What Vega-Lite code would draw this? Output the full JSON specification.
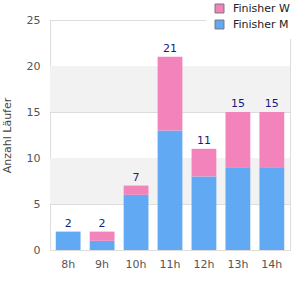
{
  "$schema": "https://vega.github.io/schema/vega-lite/v6.json",
  "width": 240,
  "height": 230,
  "autosize": {"type": "none"},
  "padding": {"left": 50, "top": 20, "right": 10, "bottom": 50},
  "background": "white",
  "config": {
    "font": "DejaVu Sans",
    "view": {"stroke": "#dddddd", "strokeWidth": 1}
  },
  "datasets": {
    "runners": [
      {"hour": "8h", "series": "Finisher M", "count": 2},
      {"hour": "8h", "series": "Finisher W", "count": 0},
      {"hour": "9h", "series": "Finisher M", "count": 1},
      {"hour": "9h", "series": "Finisher W", "count": 1},
      {"hour": "10h", "series": "Finisher M", "count": 6},
      {"hour": "10h", "series": "Finisher W", "count": 1},
      {"hour": "11h", "series": "Finisher M", "count": 13},
      {"hour": "11h", "series": "Finisher W", "count": 8},
      {"hour": "12h", "series": "Finisher M", "count": 8},
      {"hour": "12h", "series": "Finisher W", "count": 3},
      {"hour": "13h", "series": "Finisher M", "count": 9},
      {"hour": "13h", "series": "Finisher W", "count": 6},
      {"hour": "14h", "series": "Finisher M", "count": 9},
      {"hour": "14h", "series": "Finisher W", "count": 6}
    ],
    "bands": [
      {"lo": 5, "hi": 10},
      {"lo": 15, "hi": 20}
    ]
  },
  "layer": [
    {
      "data": {"name": "bands"},
      "mark": {"type": "rect", "color": "#f2f2f2"},
      "encoding": {
        "y": {"field": "lo", "type": "quantitative", "scale": {"domain": [0, 25]}},
        "y2": {"field": "hi"}
      }
    },
    {
      "data": {"name": "runners"},
      "mark": {"type": "bar"},
      "encoding": {
        "x": {
          "field": "hour", "type": "nominal", "sort": null,
          "scale": {"paddingInner": 0.27, "paddingOuter": 0.17},
          "axis": {"title": null, "labelAngle": 0, "ticks": false, "domain": false, "labelPadding": 8, "labelFontSize": 11, "labelColor": "#555555"}
        },
        "y": {
          "field": "count", "type": "quantitative", "aggregate": "sum", "stack": "zero",
          "scale": {"domain": [0, 25], "nice": false},
          "axis": {"title": "Anzahl Läufer", "titleFontWeight": "normal", "titleFontSize": 11, "titleColor": "#444444", "titlePadding": 14, "values": [0, 5, 10, 15, 20, 25], "ticks": false, "domain": false, "labelPadding": 10, "labelFontSize": 11, "labelColor": "#555555", "gridColor": "#dddddd"}
        },
        "color": {
          "field": "series", "type": "nominal",
          "scale": {"domain": ["Finisher W", "Finisher M"], "range": ["#f383bb", "#61a9f2"]},
          "legend": {"title": null, "orient": "none", "legendX": 156, "legendY": -25, "symbolType": "square", "symbolSize": 80, "symbolStrokeColor": "#777777", "symbolStrokeWidth": 1, "labelFontSize": 11, "labelColor": "#222222", "fillColor": "white", "padding": 8, "rowPadding": 3, "labelOffset": 8}
        },
        "order": {"field": "series", "sort": "ascending"}
      }
    },
    {
      "data": {"name": "runners"},
      "transform": [{"aggregate": [{"op": "sum", "field": "count", "as": "total"}], "groupby": ["hour"]}],
      "mark": {"type": "text", "dy": -8, "fontSize": 11, "color": "#1a1a80"},
      "encoding": {
        "x": {"field": "hour", "type": "nominal", "sort": null},
        "y": {"field": "total", "type": "quantitative"},
        "text": {"field": "total", "type": "quantitative"}
      }
    }
  ]
}
